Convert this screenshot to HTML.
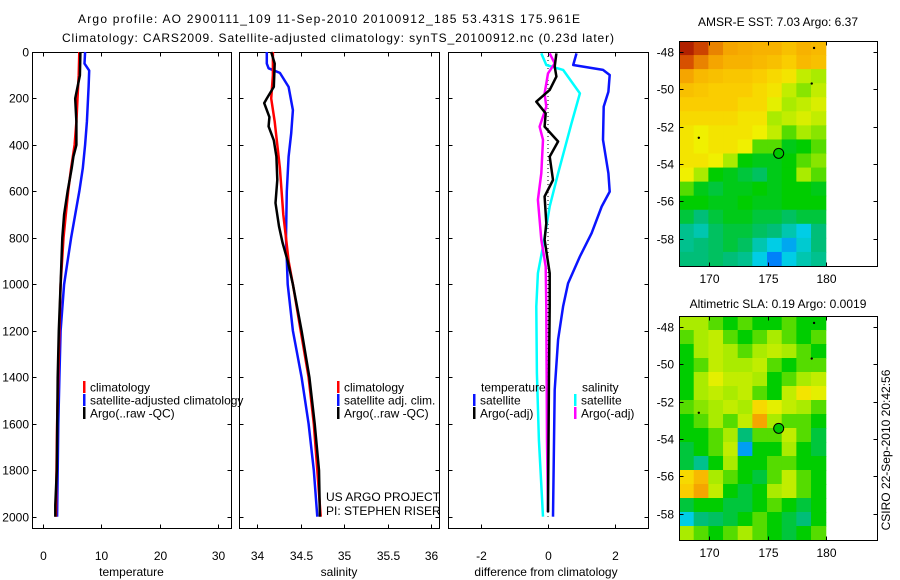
<!DOCTYPE html>
<html><head><meta charset="utf-8">
<style>
html,body{margin:0;padding:0;background:#fff;}
svg{display:block;font-family:"Liberation Sans",sans-serif;}
text{font-size:12px;fill:#000;}
</style></head>
<body>
<svg id="chart" width="900" height="580" viewBox="0 0 900 580"></svg>
<script>
// ---------- data ----------
const tempDepth = [0,100,200,300,400,500,600,700,800,1000,1200,1400,1600,2000];
const tempClim  = [6.2,6.1,5.9,5.7,5.4,4.8,4.3,3.9,3.5,3.0,2.8,2.6,2.4,2.2];
const tempSatDepth = [0,50,80,150,300,400,500,600,700,800,900,1000,1200,1400,1600,2000];
const tempSat   = [7.2,7.1,7.9,7.8,7.5,7.2,6.8,6.2,5.5,4.8,4.2,3.6,3.0,2.8,2.6,2.4];
const tempArgoDepth = [0,100,200,300,400,450,500,600,700,800,1000,1200,1400,1800,1950,2000];
const tempArgo  = [6.4,6.3,5.5,5.7,5.7,5.2,4.9,4.2,3.6,3.3,3.0,2.7,2.5,2.35,2.1,2.1];

const salDepth = [0,100,200,300,400,500,600,700,800,900,1000,1200,1400,1600,1800,2000];
const salClim  = [34.18,34.18,34.16,34.2,34.23,34.26,34.28,34.3,34.33,34.36,34.41,34.5,34.59,34.65,34.69,34.73];
const salSatDepth = [0,50,70,90,150,250,350,450,600,800,1000,1200,1400,1600,1800,2000];
const salSat   = [34.11,34.11,34.13,34.26,34.36,34.41,34.39,34.36,34.34,34.33,34.35,34.41,34.51,34.59,34.65,34.69];
const salArgoDepth = [0,50,150,200,220,280,320,380,450,550,650,750,820,900,1000,1200,1400,1600,1800,2000];
const salArgo  = [34.16,34.2,34.19,34.11,34.08,34.14,34.13,34.19,34.22,34.23,34.21,34.25,34.29,34.35,34.41,34.51,34.6,34.66,34.71,34.72];

const dTSatDepth = [6,56,77,99,171,235,378,522,601,665,780,880,995,1095,1238,1454,2000];
const dTSat  = [0.85,0.75,1.64,1.84,1.8,1.66,1.64,1.8,1.84,1.6,1.3,0.95,0.6,0.45,0.3,0.2,0.15];
const dSSatDepth = [6,56,77,178,307,522,665,837,952,1095,1382,1670,2000];
const dSSat  = [-0.2,-0.05,0.45,0.95,0.7,0.3,0.05,-0.15,-0.3,-0.35,-0.33,-0.27,-0.15];
const dTArgoDepth = [6,63,106,163,214,264,321,385,450,551,622,737,808,952,1095,1382,1980];
const dTArgo = [0.25,0.2,0.25,0.05,-0.35,-0.07,-0.1,0.3,0.05,0.15,-0.1,-0.05,-0.1,0.05,0.05,0.03,0];
const dSArgoDepth = [6,49,92,178,235,321,378,522,636,808,923,1095,1670,1980];
const dSArgo = [0.05,0.2,0,-0.1,-0.05,-0.25,-0.15,-0.2,-0.3,-0.2,-0.07,-0.05,-0.03,0];

const depthTicks = [0,200,400,600,800,1000,1200,1400,1600,1800,2000];
const tempTicks = [0,10,20,30];
const salTicks = [34,34.5,35,35.5,36];
const diffTicks = [-2,0,2];
const lonTicks = [170,175,180];
const latTicks = [-48,-50,-52,-54,-56,-58];

// map grids: 10 columns (lon) x 16 rows (lat), normalized colour values
const sstGrid = [
[0.95,0.9,0.82,0.78,0.77,0.76,0.76,0.74,0.76,0.75],
[0.88,0.82,0.78,0.76,0.76,0.75,0.74,0.72,0.75,0.74],
[0.78,0.75,0.74,0.73,0.73,0.72,0.7,0.68,0.62,0.6],
[0.74,0.73,0.72,0.72,0.72,0.7,0.68,0.62,0.58,0.62],
[0.72,0.72,0.72,0.72,0.7,0.7,0.65,0.6,0.62,0.64],
[0.7,0.7,0.7,0.7,0.68,0.68,0.6,0.62,0.64,0.62],
[0.68,0.66,0.68,0.68,0.68,0.66,0.62,0.55,0.6,0.58],
[0.68,0.66,0.68,0.68,0.66,0.55,0.55,0.48,0.5,0.55],
[0.68,0.68,0.66,0.6,0.5,0.48,0.48,0.5,0.55,0.58],
[0.66,0.6,0.5,0.48,0.45,0.42,0.48,0.5,0.6,0.55],
[0.55,0.48,0.45,0.48,0.48,0.5,0.48,0.5,0.5,0.48],
[0.5,0.5,0.48,0.48,0.5,0.48,0.48,0.5,0.5,0.5],
[0.45,0.4,0.45,0.48,0.48,0.45,0.45,0.42,0.45,0.45],
[0.38,0.35,0.42,0.45,0.45,0.42,0.4,0.35,0.3,0.4],
[0.38,0.4,0.42,0.45,0.42,0.35,0.3,0.26,0.32,0.4],
[0.4,0.4,0.42,0.4,0.38,0.3,0.22,0.3,0.35,0.38]];
const slaGrid = [
[0.6,0.6,0.55,0.5,0.55,0.5,0.5,0.55,0.5,0.5],
[0.55,0.6,0.62,0.55,0.5,0.55,0.6,0.55,0.5,0.55],
[0.5,0.6,0.62,0.6,0.55,0.6,0.62,0.6,0.55,0.5],
[0.5,0.55,0.62,0.6,0.6,0.62,0.55,0.5,0.55,0.55],
[0.5,0.6,0.65,0.62,0.62,0.6,0.5,0.55,0.6,0.62],
[0.5,0.6,0.62,0.6,0.62,0.55,0.5,0.62,0.68,0.65],
[0.55,0.58,0.6,0.62,0.6,0.7,0.65,0.62,0.6,0.55],
[0.5,0.55,0.6,0.55,0.62,0.78,0.6,0.55,0.55,0.5],
[0.5,0.5,0.55,0.6,0.4,0.55,0.55,0.62,0.55,0.45],
[0.45,0.5,0.55,0.62,0.25,0.5,0.5,0.6,0.5,0.45],
[0.45,0.38,0.5,0.6,0.5,0.5,0.55,0.55,0.5,0.5],
[0.7,0.75,0.6,0.55,0.5,0.45,0.55,0.62,0.55,0.5],
[0.72,0.78,0.62,0.5,0.45,0.5,0.6,0.62,0.55,0.5],
[0.45,0.5,0.5,0.45,0.45,0.5,0.55,0.5,0.45,0.5],
[0.3,0.4,0.42,0.45,0.5,0.55,0.5,0.45,0.4,0.5],
[0.6,0.55,0.5,0.55,0.6,0.55,0.5,0.45,0.5,0.55]];
const argoLon = 175.961, argoLat = -53.431;
const dotLon = [169.1,178.8,179.0], dotLat = [-52.6,-49.7,-47.8];

// ---------- helpers ----------
const NS="http://www.w3.org/2000/svg";
const svg=document.getElementById('chart');
function mk(tag,attrs,parent){const e=document.createElementNS(NS,tag);for(const k in attrs)e.setAttribute(k,attrs[k]);(parent||svg).appendChild(e);return e;}
function txt(s,x,y,anchor,parent){const t=mk('text',{x:x,y:y,'text-anchor':anchor||'start'},parent);t.textContent=s;return t;}
function lin(d0,d1,r0,r1){return v=>r0+(v-d0)*(r1-r0)/(d1-d0);}

const yD = lin(0,2000,52,516.7);
const panels=[
 {name:'temperature-panel',x0:32,x1:231,dom:[-1.9,32.2],ticks:tempTicks,label:'temperature',lab:'x-axis-title-temperature'},
 {name:'salinity-panel',x0:239,x1:439,dom:[33.79,36.09],ticks:salTicks,label:'salinity',lab:'x-axis-title-salinity'},
 {name:'difference-panel',x0:448,x1:648,dom:[-2.98,2.98],ticks:diffTicks,label:'difference from climatology',lab:'x-axis-title-difference'}];

// titles
let t=txt('Argo profile: AO 2900111_109 11-Sep-2010 20100912_185 53.431S 175.961E',78,23);
t.setAttribute('textLength','502');t.setAttribute('font-size','13');


t=txt('Climatology: CARS2009. Satellite-adjusted climatology: synTS_20100912.nc (0.23d later)',62,42);
t.setAttribute('textLength','552');t.setAttribute('font-size','13');



panels.forEach((p,i)=>{
  const g=mk('g',{});
  
  
  p.sx=lin(p.dom[0],p.dom[1],p.x0,p.x1);
  p.g=g;
  mk('rect',{x:p.x0+0.5,y:52.5,width:p.x1-p.x0,height:476,fill:'none',stroke:'#000','stroke-width':1},g);
  p.ticks.forEach(v=>{const x=Math.round(p.sx(v))+0.5;
    mk('line',{x1:x,x2:x,y1:528.5,y2:524.5,stroke:'#000'},g);
    mk('line',{x1:x,x2:x,y1:52.5,y2:56.5,stroke:'#000'},g);
    const tl=txt(String(v),x,560,'middle',g);
    
    
  });
  depthTicks.forEach(d=>{const y=Math.round(yD(d))+0.5;
    mk('line',{x1:p.x0+0.5,x2:p.x0+4.5,y1:y,y2:y,stroke:'#000'},g);
    mk('line',{x1:p.x1+0.5,x2:p.x1-3.5,y1:y,y2:y,stroke:'#000'},g);
    if(i===0){const tl=txt(String(d),29,y+4,'end',g);
      
      }
  });
  const al=txt(p.label,(p.x0+p.x1)/2-(i===2?2:0),576,'middle',g);
  
  
});

function profile(p,vals,depths,color,name){
  let d='';
  vals.forEach((v,k)=>{d+=(k?'L':'M')+p.sx(v).toFixed(1)+','+yD(depths[k]).toFixed(1);});
  const e=mk('path',{d:d,fill:'none',stroke:color,'stroke-width':2.5,'stroke-linejoin':'round'},p.g);
  
  
}
const zx=panels[2].sx(0);
mk('line',{x1:zx,x2:zx,y1:yD(0),y2:yD(2000),stroke:'#000','stroke-dasharray':'1,3'},panels[2].g);

profile(panels[0],tempSat,tempSatDepth,'#0a14ff','temp-satellite-line');
profile(panels[0],tempClim,tempDepth,'#ff0000','temp-climatology-line');
profile(panels[0],tempArgo,tempArgoDepth,'#000','temp-argo-line');
profile(panels[1],salSat,salSatDepth,'#0a14ff','sal-satellite-line');
profile(panels[1],salClim,salDepth,'#ff0000','sal-climatology-line');
profile(panels[1],salArgo,salArgoDepth,'#000','sal-argo-line');
profile(panels[2],dTSat,dTSatDepth,'#0a14ff','diff-temp-satellite-line');
profile(panels[2],dSSat,dSSatDepth,'#00ffff','diff-sal-satellite-line');
profile(panels[2],dSArgo,dSArgoDepth,'#ff00ff','diff-sal-argo-line');
profile(panels[2],dTArgo,dTArgoDepth,'#000','diff-temp-argo-line');

// legends
function legEntry(x,y,color,label,g){
  const e=mk('g',{},g);
  
  
  if(color) mk('rect',{x:x,y:y-6,width:2.5,height:12,fill:color},e);
  txt(label,x+7,y+4.5,'start',e);
}
const leg1=mk('g',{});
legEntry(83,387,'#ff0000','climatology',leg1);
legEntry(83,400,'#0a14ff','satellite-adjusted climatology',leg1);
legEntry(83,413,'#000','Argo(..raw -QC)',leg1);
const leg2=mk('g',{});
legEntry(337,387,'#ff0000','climatology',leg2);
legEntry(337,400,'#0a14ff','satellite adj. clim.',leg2);
legEntry(337,413,'#000','Argo(..raw -QC)',leg2);
const leg3=mk('g',{});
legEntry(474,387,null,'temperature',leg3);
legEntry(473,400,'#0a14ff','satellite',leg3);
legEntry(473,413,'#000','Argo(-adj)',leg3);
legEntry(575,387,null,'salinity',leg3);
legEntry(574,400,'#00ffff','satellite',leg3);
legEntry(574,413,'#ff00ff','Argo(-adj)',leg3);
t=txt('US ARGO PROJECT',326,501);
t=txt('PI: STEPHEN RISER',326,515);

// colormap
const stops=[[0,[0,0,190]],[0.2,[0,110,255]],[0.3,[0,205,230]],[0.4,[0,190,120]],[0.5,[0,205,0]],[0.6,[170,235,0]],[0.66,[240,240,0]],[0.72,[250,205,0]],[0.78,[245,165,0]],[0.88,[215,80,0]],[1,[150,0,0]]];
function cmap(v){for(let k=1;k<stops.length;k++){if(v<=stops[k][0]){const a=stops[k-1],b=stops[k],f=(v-a[0])/(b[0]-a[0]);
  return 'rgb('+a[1].map((c,j)=>Math.round(c+(b[1][j]-c)*f)).join(',')+')';}}return 'rgb(150,0,0)';}

function drawMap(top,bot,grid,title,titleY,name){
  const g=mk('g',{});
  
  
  const sx=lin(170,180,709.3,825.7);
  const sy=lin(-48,-58,top+10.7,top+10.7+187.2);
  const lon0=167.4,lon1=180;
  const latTop=-48+(top-(top+10.7))/-18.72, latBot=-48+(bot-(top+10.7))/-18.72;
  const nr=grid.length,nc=grid[0].length;
  const dLon=(lon1-lon0)/nc,dLat=(latTop-latBot)/nr;
  grid.forEach((row,r)=>row.forEach((v,c)=>{
    const x=sx(lon0+c*dLon),y=sy(latTop-r*dLat);
    const cell=mk('rect',{x:x.toFixed(2),y:y.toFixed(2),width:(sx(lon0+(c+1)*dLon)-x+0.6).toFixed(2),height:(sy(latTop-(r+1)*dLat)-y+0.6).toFixed(2),fill:cmap(v)},g);
    
    
  }));
  mk('rect',{x:679.5,y:top+0.5,width:198,height:bot-top,fill:'none',stroke:'#000'},g);
  lonTicks.forEach(v=>{const x=Math.round(sx(v))+0.5;
    mk('line',{x1:x,x2:x,y1:top+0.5,y2:top+4.5,stroke:'#000'},g);
    mk('line',{x1:x,x2:x,y1:bot+0.5,y2:bot-3.5,stroke:'#000'},g);
    const l=txt(String(v),x,bot+17,'middle',g);
    
    });
  latTicks.forEach(v=>{const y=Math.round(sy(v))+0.5;
    mk('line',{x1:679.5,x2:683.5,y1:y,y2:y,stroke:'#000'},g);
    mk('line',{x1:877.5,x2:873.5,y1:y,y2:y,stroke:'#000'},g);
    const l=txt(String(v),674,y+4,'end',g);
    
    });
  dotLon.forEach((lo,k)=>{const d=mk('circle',{cx:sx(lo),cy:sy(dotLat[k]),r:1.2,fill:'#000'},g);
    
    });
  const c=mk('circle',{cx:sx(argoLon),cy:sy(argoLat),r:5,fill:'#00c800',stroke:'#000','stroke-width':1},g);
  
  
  const tt=txt(title,778,titleY,'middle',g);
  
  
}
drawMap(41,266,sstGrid,'AMSR-E SST: 7.03 Argo: 6.37',26,'sst-map');
drawMap(316,540,slaGrid,'Altimetric SLA: 0.19 Argo: 0.0019',308,'sla-map');

t=txt('CSIRO 22-Sep-2010 20:42:56',0,0,'middle');
t.setAttribute('transform','translate(890,450) rotate(-90)');


</script>
</body></html>
